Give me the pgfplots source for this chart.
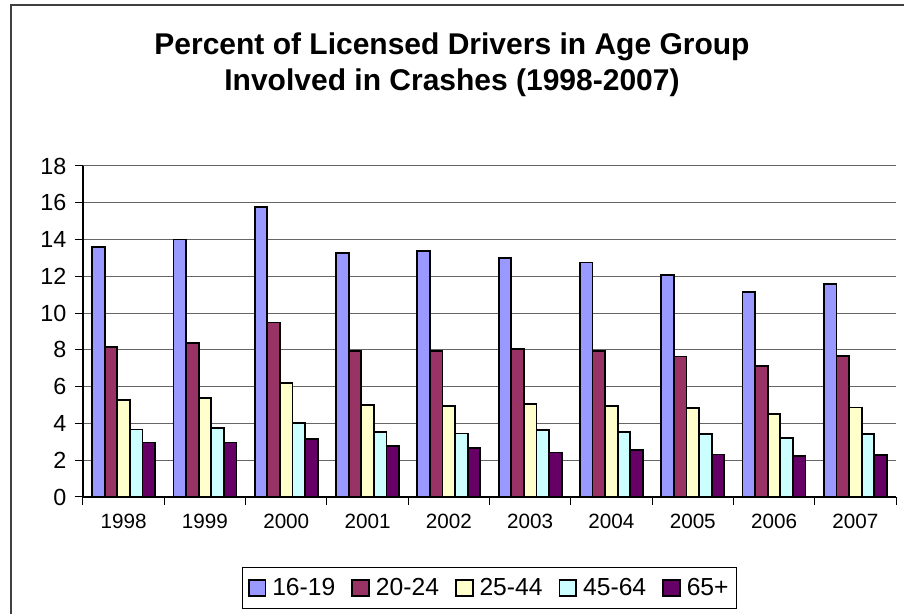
\documentclass[border=0pt]{standalone}
\usepackage{pgfplots}
\pgfplotsset{compat=1.18}
\usepackage{fontspec}
\setmainfont{Liberation Sans}
\definecolor{cA}{HTML}{9999FF}
\definecolor{cB}{HTML}{993366}
\definecolor{cC}{HTML}{FFFFCC}
\definecolor{cD}{HTML}{CCFFFF}
\definecolor{cE}{HTML}{660066}
\pgfplotsset{
  sqleg/.style={legend image code/.code={\draw[##1, line width=1.4pt] (0pt,-6.3pt) rectangle (12.6pt,6.3pt); \path (15pt,0pt);}},
}
\begin{document}
\begin{tikzpicture}[x=0.75pt,y=0.75pt]
\useasboundingbox (0,0) rectangle (904,614);
\begin{scope}
\clip (0,0) rectangle (904,614);
\draw[line width=1.5pt, black!75] (10.5,-10) -- (10.5,609) -- (920,609);
\end{scope}
\node[font=\bfseries\fontsize{22.5}{27}\selectfont, align=center] at (452,549) {Percent of Licensed Drivers in Age Group\\Involved in Crashes (1998-2007)};
\begin{axis}[
  at={(62.25pt,87.75pt)}, anchor=south west,
  width=609.75pt, height=248.25pt, scale only axis,
  ybar=0pt, bar width=9.45pt,
  ymin=0, ymax=18, ytick={0,2,...,18},
  xmin=-0.5, xmax=9.5,
  xtick={-0.5,0.5,...,9.5},
  x tick label as interval,
  xticklabels={1998,1999,2000,2001,2002,2003,2004,2005,2006,2007},
  axis x line*=bottom, axis y line*=left,
  tick align=outside, major tick length=6pt,
  tick style={black, line width=0.75pt},
  axis line style={black, line width=0.9pt},
  ymajorgrids, grid style={black!60, line width=0.75pt},
  /pgf/number format/assume math mode=true,
  xticklabel style={font=\fontsize{15.5}{18}\selectfont, yshift=-3pt},
  yticklabel style={font=\fontsize{17.5}{20}\selectfont, xshift=-3pt},
  legend columns=5,
  legend style={at={(0.5,-0.275)}, anchor=center, draw=black, line width=0.75pt,
    font=\fontsize{18.5}{21}\selectfont, inner xsep=4pt, inner ysep=6pt,
    /tikz/every even column/.append style={column sep=10pt}},
  every axis plot/.append style={draw=black, line width=1.4pt},
]
\addplot[fill=cA, sqleg] coordinates {(0,13.6) (1,14.0) (2,15.76) (3,13.27) (4,13.4) (5,13.02) (6,12.75) (7,12.07) (8,11.16) (9,11.6)};
\addplot[fill=cB, sqleg] coordinates {(0,8.18) (1,8.36) (2,9.49) (3,7.96) (4,7.96) (5,8.07) (6,7.93) (7,7.64) (8,7.13) (9,7.69)};
\addplot[fill=cC, sqleg] coordinates {(0,5.27) (1,5.36) (2,6.2) (3,4.98) (4,4.95) (5,5.07) (6,4.96) (7,4.85) (8,4.53) (9,4.87)};
\addplot[fill=cD, sqleg] coordinates {(0,3.67) (1,3.76) (2,4.04) (3,3.53) (4,3.45) (5,3.65) (6,3.55) (7,3.44) (8,3.22) (9,3.44)};
\addplot[fill=cE, sqleg] coordinates {(0,2.96) (1,2.96) (2,3.15) (3,2.78) (4,2.67) (5,2.42) (6,2.55) (7,2.31) (8,2.24) (9,2.27)};
\legend{16-19,20-24,25-44,45-64,65+}
\end{axis}
\end{tikzpicture}
\end{document}
